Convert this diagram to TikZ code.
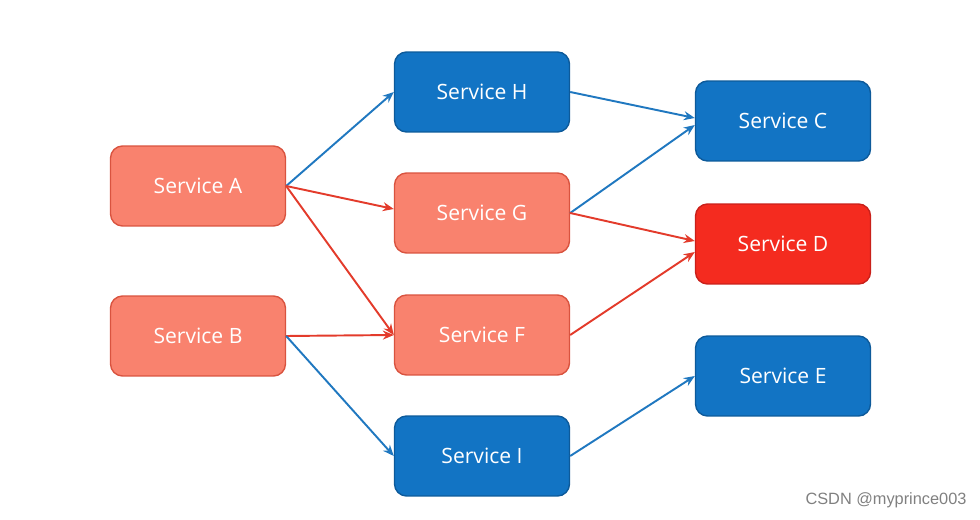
\documentclass[tikz,border=0pt]{standalone}
\usepackage{fontspec}
\setmainfont{Open Sans}
\newfontfamily\markfont{Liberation Sans}
\usepackage{tikz}
\usetikzlibrary{arrows.meta}

\definecolor{salmon}{HTML}{F9826E}
\definecolor{salmonline}{HTML}{D9533F}
\definecolor{svcblue}{HTML}{1274C4}
\definecolor{svcblueline}{HTML}{0D5A9A}
\definecolor{svcred}{HTML}{F42B1F}
\definecolor{svcredline}{HTML}{C9201A}
\definecolor{linkblue}{HTML}{2078C0}
\definecolor{linkred}{HTML}{E33B2B}

\begin{document}
\begin{tikzpicture}[
    x=0.02cm, y=-0.02cm,
    service/.style={rectangle, rounded corners=0.24cm, minimum width=3.5cm, minimum height=1.6cm,
        line width=0.8pt, text=white, font=\fontsize{12}{14}\selectfont},
    okbox/.style={service, fill=svcblue, draw=svcblueline},
    slowbox/.style={service, fill=salmon, draw=salmonline},
    downbox/.style={service, fill=svcred, draw=svcredline},
    arrow/.style={-{Stealth[length=2.2mm, width=1.8mm]}, line width=1.1pt},
    okarrow/.style={arrow, linkblue},
    badarrow/.style={arrow, linkred}
]
    \useasboundingbox (0, 0) rectangle (980, 520);

    % Services
    \node[slowbox] (svcA) at (198, 186) {Service A};
    \node[slowbox] (svcB) at (198, 336) {Service B};
    \node[okbox]   (svcH) at (482, 92)  {Service H};
    \node[slowbox] (svcG) at (482, 213) {Service G};
    \node[slowbox] (svcF) at (482, 335) {Service F};
    \node[okbox]   (svcI) at (482, 456) {Service I};
    \node[okbox]   (svcC) at (783, 121) {Service C};
    \node[downbox] (svcD) at (783, 244) {Service D};
    \node[okbox]   (svcE) at (783, 376) {Service E};

    % Calls from A and B
    \draw[okarrow]  (svcA.east) -- (svcH.west);
    \draw[badarrow] (svcA.east) -- ([yshift=0.08cm]svcG.west);
    \draw[badarrow] (svcA.east) -- (svcF.west);
    \draw[badarrow] (svcB.east) -- (svcF.west);
    \draw[okarrow]  (svcB.east) -- (svcI.west);

    % Calls into C, D, E
    \draw[okarrow]  (svcH.east) -- ([yshift=0.06cm]svcC.west);
    \draw[okarrow]  (svcG.east) -- ([yshift=-0.08cm]svcC.west);
    \draw[badarrow] (svcG.east) -- ([yshift=0.06cm]svcD.west);
    \draw[badarrow] (svcF.east) -- ([yshift=-0.16cm]svcD.west);
    \draw[okarrow]  (svcI.east) -- (svcE.west);

    % Watermark
    \node[gray, font=\fontsize{9.3}{11}\selectfont\markfont] (mark) at (886, 500) {CSDN @myprince003};

\end{tikzpicture}
\end{document}
